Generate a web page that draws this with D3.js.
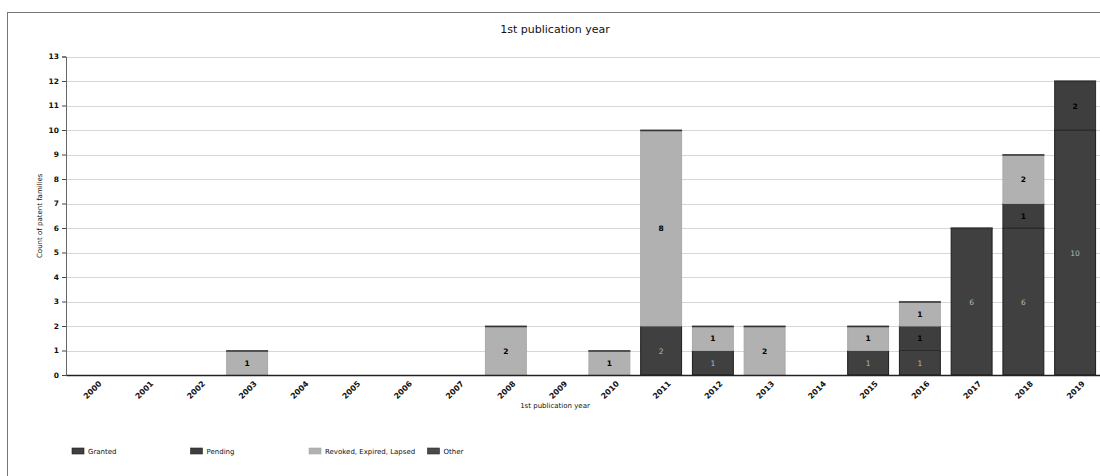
<!DOCTYPE html>
<html>
<head>
<meta charset="utf-8">
<script src="https://cdn.jsdelivr.net/npm/d3@7"></script>
<style>
  body { margin: 0; background: #fff; }
  svg { font-family: "DejaVu Sans", Verdana, sans-serif; display: block; }
</style>
</head>
<body>
<div id="canvas"></div>
<script>
const years = ["2000","2001","2002","2003","2004","2005","2006","2007","2008","2009",
               "2010","2011","2012","2013","2014","2015","2016","2017","2018","2019"];
const granted = [0,0,0,0,0,0,0,0,0,0, 0,2,1,0,0,1,1,6,6,10];
const pending = [0,0,0,0,0,0,0,0,0,0, 0,0,0,0,0,0,1,0,1,2];
const revoked = [0,0,0,1,0,0,0,0,2,0, 1,8,1,2,0,1,1,0,2,0];
const other   = [0,0,0,0,0,0,0,0,0,0, 0,0,0,0,0,0,0,0,0,0];
const yTicks = d3.range(0, 14);

const seriesNames = ["Granted", "Pending", "Revoked, Expired, Lapsed", "Other"];
const fills   = ["#404040", "#3e3e3e", "#b1b1b1", "#4a4a4a"];
const strokes = ["#1c1c1c", "#2a2a2a", "#a9a9a9", "#2e2e2e"];
const labelColors = ["#b8b8b8", "#000", "#000", "#000"];

const width = 1100, height = 476;
const margin = { top: 56.5, left: 66, bottom: 101, right: -1 };

const rows = years.map((y, i) => ({ year: y, g: granted[i], p: pending[i], r: revoked[i], o: other[i] }));
const keys = ["g", "p", "r", "o"];
const stack = d3.stack().keys(keys)(rows);

const svg = d3.select("#canvas").append("svg").attr("width", width).attr("height", height);

// frame
svg.append("rect").attr("x", 7.5).attr("y", 12.5).attr("width", 1200).attr("height", 600)
  .attr("fill", "none").attr("stroke", "#777").attr("stroke-width", 1);

const x = d3.scaleBand().domain(years).range([margin.left, width - margin.right])
  .paddingInner(0.19).paddingOuter(0.095);
const y = d3.scaleLinear().domain([0, 13]).range([height - margin.bottom, margin.top]);

// grid
svg.append("g").selectAll("line").data(yTicks).enter().append("line")
  .attr("x1", margin.left).attr("x2", width)
  .attr("y1", d => Math.round(y(d)) + 0.5).attr("y2", d => Math.round(y(d)) + 0.5)
  .attr("stroke", "#d6d6d6").attr("stroke-width", 1.2);

svg.append("text").attr("x", 555).attr("y", 33).attr("text-anchor", "middle")
  .attr("font-size", 11).attr("fill", "#111").text("1st publication year");

// bars
const layers = svg.append("g").selectAll("g").data(stack).enter().append("g")
  .attr("fill", (d, i) => fills[i]).attr("stroke", (d, i) => strokes[i]);

layers.selectAll("rect").data(d => d.filter(s => s[1] - s[0] > 0)).enter().append("rect")
  .attr("x", d => x(d.data.year) + 0.5)
  .attr("y", d => y(d[1]))
  .attr("width", x.bandwidth() - 1)
  .attr("height", d => y(d[0]) - y(d[1]));

// zero-height "Other" segment shows as a dark line on top of each stack
const stackTops = stack[stack.length - 1].filter(d => d[1] > 0);
svg.append("g").selectAll("line").data(stackTops).enter().append("line")
  .attr("x1", d => x(d.data.year)).attr("x2", d => x(d.data.year) + x.bandwidth())
  .attr("y1", d => y(d[1]) + 0.5).attr("y2", d => y(d[1]) + 0.5)
  .attr("stroke", "#333").attr("stroke-width", 1.3);

// value labels
stack.forEach((layer, i) => {
  svg.append("g").selectAll("text").data(layer.filter(d => d[1] - d[0] > 0)).enter().append("text")
    .attr("x", d => x(d.data.year) + x.bandwidth() / 2)
    .attr("y", d => (y(d[0]) + y(d[1])) / 2 + 3)
    .attr("text-anchor", "middle")
    .attr("font-size", 7.5)
    .attr("font-weight", i === 0 ? "normal" : "bold")
    .attr("fill", labelColors[i])
    .text(d => d[1] - d[0]);
});

// y axis
const yAxis = svg.append("g").attr("transform", `translate(${margin.left},0)`)
  .call(d3.axisLeft(y).tickValues(yTicks).tickSize(4).tickPadding(3));
yAxis.select(".domain").attr("stroke", "#666");
yAxis.selectAll(".tick line").attr("stroke", "#444");
yAxis.selectAll("text").attr("font-size", 7.5).attr("font-weight", "bold")
  .attr("font-family", "DejaVu Sans, Verdana, sans-serif").attr("fill", "#111");

// x axis
const xAxis = svg.append("g").attr("transform", `translate(0,${y(0)})`)
  .call(d3.axisBottom(x).tickSize(0).tickPadding(6));
xAxis.select(".domain").attr("stroke", "#222").attr("stroke-width", 1.3);
xAxis.selectAll("text")
  .attr("font-size", 7.8).attr("font-weight", "bold").attr("fill", "#111")
  .attr("font-family", "DejaVu Sans, Verdana, sans-serif")
  .attr("text-anchor", "end")
  .attr("dy", 0)
  .attr("transform", "translate(6,5) rotate(-45)");

svg.append("text").attr("x", 555).attr("y", 408).attr("text-anchor", "middle")
  .attr("font-size", 7).attr("fill", "#111").text("1st publication year");

svg.append("text").attr("transform", `translate(42,${(y(0) + y(13)) / 2}) rotate(-90)`)
  .attr("text-anchor", "middle").attr("font-size", 7).attr("fill", "#111")
  .text("Count of patent families");

// legend
const legend = svg.append("g").attr("transform", "translate(72,448)");
const li = legend.selectAll("g").data(seriesNames).enter().append("g")
  .attr("transform", (d, i) => `translate(${i * 118.5},0)`);
li.append("rect").attr("width", 12).attr("height", 6)
  .attr("fill", (d, i) => fills[i]).attr("stroke", (d, i) => strokes[i]).attr("stroke-width", 0.6);
li.append("text").attr("x", 16).attr("y", 6).attr("font-size", 7).attr("fill", "#111").text(d => d);
</script>
</body>
</html>
